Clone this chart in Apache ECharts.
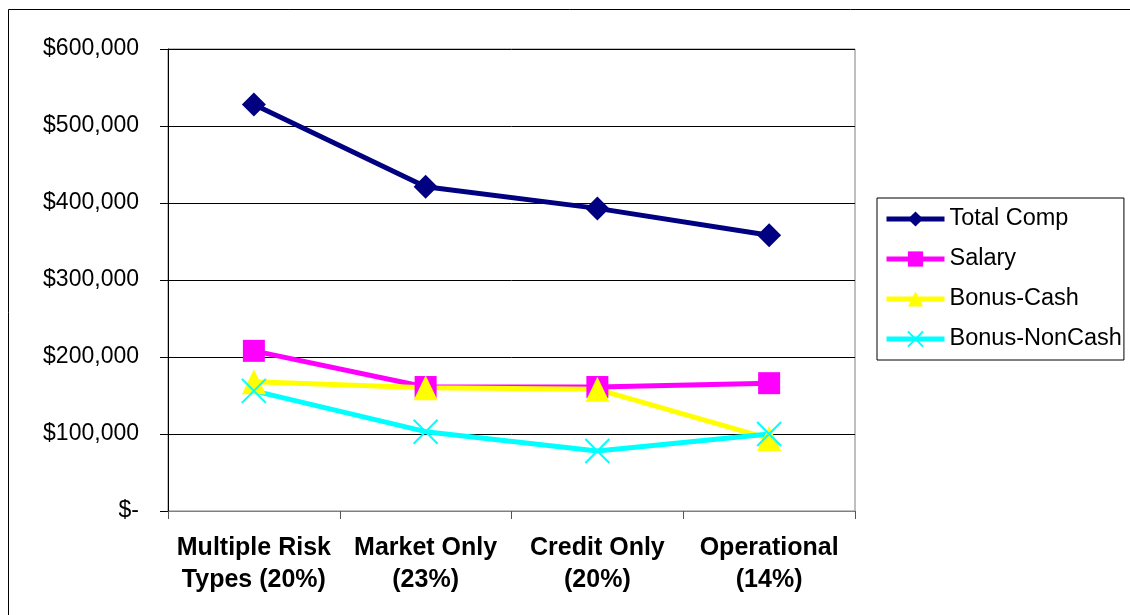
<!DOCTYPE html>
<html lang="en">
<head>
    <meta charset="UTF-8">
    <title>Compensation by risk type</title>
    <script src="https://cdn.jsdelivr.net/npm/echarts@6/dist/echarts.min.js"></script>
    <style type="text/css">
        html, body { margin: 0; padding: 0; background: #fff; }
        #main { width: 1130px; height: 615px; }
    </style>
</head>
<body>
<div id="main"></div>
<script type="text/javascript">
    var categories = ['Multiple Risk\nTypes (20%)', 'Market Only\n(23%)', 'Credit Only\n(20%)', 'Operational\n(14%)'];
    var totalComp = [528000, 421000, 393000, 358000];
    var salary = [208000, 161000, 161000, 166000];
    var bonusCash = [168000, 160000, 158000, 94000];
    var bonusNonCash = [156000, 103000, 78000, 100000];

    var font = "'Liberation Sans', Arial, sans-serif";
    var crossPath = 'path://M0,0 L10,10 M10,0 L0,10';

    var chart = echarts.init(document.getElementById('main'));
    chart.setOption({
        animation: false,
        backgroundColor: '#fff',
        textStyle: { fontFamily: font },
        graphic: [{
            type: 'rect',
            shape: { x: 8.5, y: 9.5, width: 1200, height: 700 },
            style: { fill: 'none', stroke: '#000', lineWidth: 1 },
            silent: true
        }],
        grid: {
            left: 168, right: 275, top: 49, bottom: 104,
            show: true, borderColor: '#808080', borderWidth: 1, backgroundColor: 'transparent'
        },
        legend: {
            orient: 'vertical',
            left: 877, top: 198,
            padding: [9, 2, 9, 7],
            itemGap: 16,
            itemWidth: 58,
            itemHeight: 19,
            borderColor: '#000', borderWidth: 1,
            lineStyle: { width: 5 },
            textStyle: { fontSize: 23.5, color: '#000', fontFamily: font, lineHeight: 24 },
            data: ['Total Comp', 'Salary', 'Bonus-Cash', 'Bonus-NonCash']
        },
        xAxis: {
            type: 'category',
            data: categories,
            boundaryGap: true,
            axisLine: { lineStyle: { color: '#808080', width: 1 } },
            axisTick: { show: true, length: 8, lineStyle: { color: '#555' } },
            axisLabel: {
                interval: 0, margin: 21, color: '#000', fontSize: 25, fontWeight: 'bold',
                lineHeight: 32, fontFamily: font
            }
        },
        yAxis: {
            type: 'value',
            min: 0, max: 600000, interval: 100000,
            axisLine: { show: true, lineStyle: { color: '#000', width: 1 } },
            axisTick: { show: true, length: 8, lineStyle: { color: '#000' } },
            splitLine: { lineStyle: { color: '#000', width: 1 } },
            axisLabel: {
                margin: 29, color: '#000', fontSize: 23, fontFamily: font,
                formatter: function (v) {
                    return v === 0 ? '$-' : '$' + v.toLocaleString('en-US');
                }
            }
        },
        series: [{
            name: 'Total Comp', type: 'line', data: totalComp,
            symbol: 'diamond', symbolSize: 24,
            lineStyle: { color: '#000080', width: 5 },
            itemStyle: { color: '#000080' }
        }, {
            name: 'Salary', type: 'line', data: salary,
            symbol: 'rect', symbolSize: 22,
            lineStyle: { color: '#ff00ff', width: 5 },
            itemStyle: { color: '#ff00ff' }
        }, {
            name: 'Bonus-Cash', type: 'line', data: bonusCash,
            symbol: 'triangle', symbolSize: [24, 25],
            lineStyle: { color: '#ffff00', width: 5 },
            itemStyle: { color: '#ffff00' }
        }, {
            name: 'Bonus-NonCash', type: 'line', data: bonusNonCash,
            symbol: crossPath, symbolSize: 24,
            lineStyle: { color: '#00ffff', width: 5 },
            itemStyle: { color: 'none', borderColor: '#00ffff', borderWidth: 2 }
        }]
    });
</script>
</body>
</html>
